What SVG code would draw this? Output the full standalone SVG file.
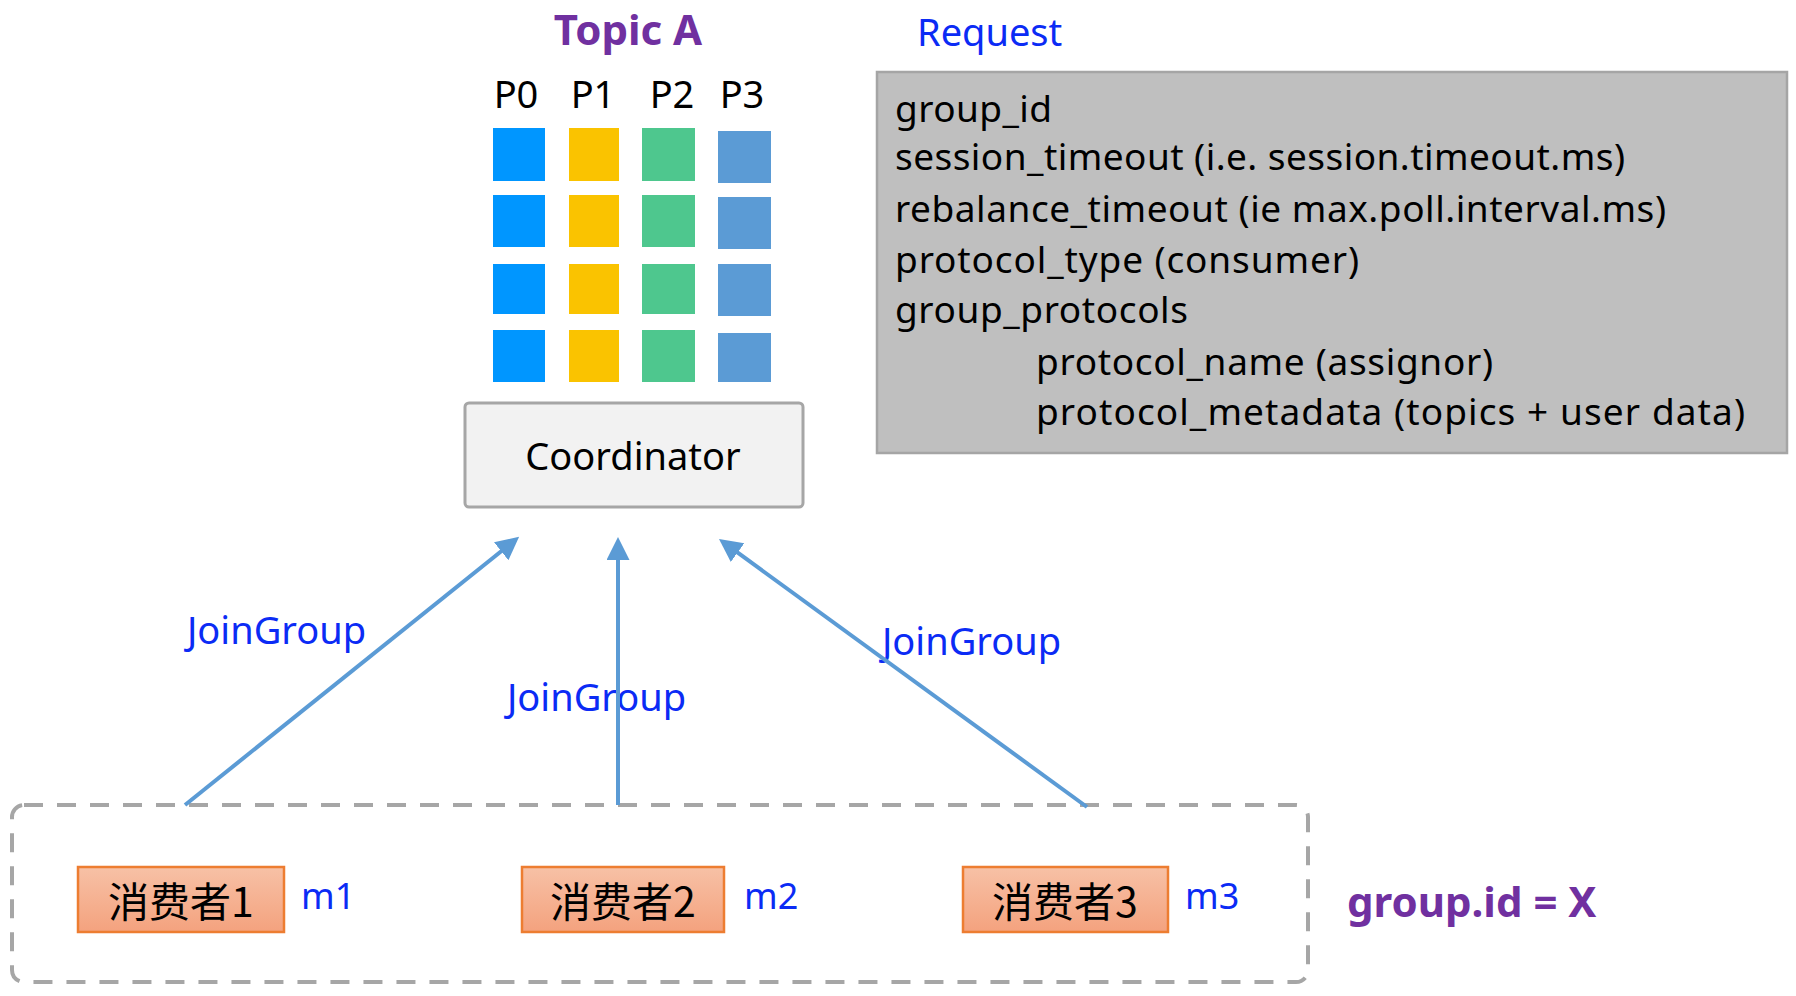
<svg xmlns="http://www.w3.org/2000/svg" width="1796" height="996" viewBox="0 0 1796 996">
<style>
.t{font-family:"Noto Sans","Liberation Sans",sans-serif;}
.blue{fill:#0B2BF5;}
.purple{fill:#7030A0;font-weight:bold;}
.req{font-family:"Noto Sans","Liberation Sans",sans-serif;font-size:37px;fill:#000;}
.cn{font-family:"Noto Sans CJK SC","Noto Sans",sans-serif;font-size:41px;fill:#000;text-anchor:middle;}
.cons{fill:url(#og);stroke:#ED7D31;stroke-width:2.5;}
.conn{stroke:#5B9BD5;stroke-width:4;fill:none;marker-end:url(#ah);}
.c0{fill:#0096FF;} .c1{fill:#FAC300;} .c2{fill:#4EC78E;} .c3{fill:#5B9BD5;}
</style>
<defs>
<linearGradient id="og" x1="0" y1="0" x2="0" y2="1">
<stop offset="0" stop-color="#F7C1A6"/>
<stop offset="1" stop-color="#F4A27E"/>
</linearGradient>
<marker id="ah" markerUnits="userSpaceOnUse" markerWidth="24" markerHeight="24" refX="10" refY="11.5" orient="auto" viewBox="0 0 24 24">
<path d="M0,0 L23,11.5 L0,23 z" fill="#5B9BD5"/>
</marker>
</defs>
<rect width="1796" height="996" fill="#FFFFFF"/>

<g id="topic">
<text class="t purple" x="628" y="45" font-size="42" text-anchor="middle">Topic A</text>
<g class="t" font-size="38" text-anchor="middle" fill="#000">
<text x="516" y="108">P0</text>
<text x="593" y="108">P1</text>
<text x="672" y="108">P2</text>
<text x="742" y="108">P3</text>
</g>
<g id="p0">
<rect class="c0" x="493" y="128" width="52" height="53"/>
<rect class="c0" x="493" y="195" width="52" height="52"/>
<rect class="c0" x="493" y="264" width="52" height="50"/>
<rect class="c0" x="493" y="330" width="52" height="52"/>
</g>
<g id="p1">
<rect class="c1" x="569" y="128" width="50" height="53"/>
<rect class="c1" x="569" y="195" width="50" height="52"/>
<rect class="c1" x="569" y="264" width="50" height="50"/>
<rect class="c1" x="569" y="330" width="50" height="52"/>
</g>
<g id="p2">
<rect class="c2" x="642" y="128" width="53" height="53"/>
<rect class="c2" x="642" y="195" width="53" height="52"/>
<rect class="c2" x="642" y="264" width="53" height="50"/>
<rect class="c2" x="642" y="330" width="53" height="52"/>
</g>
<g id="p3">
<rect class="c3" x="718" y="131" width="53" height="52"/>
<rect class="c3" x="718" y="197" width="53" height="52"/>
<rect class="c3" x="718" y="264" width="53" height="52"/>
<rect class="c3" x="718" y="333" width="53" height="49"/>
</g>
</g>

<g id="coordinator">
<rect x="465" y="403" width="338" height="104" rx="4" fill="#F2F2F2" stroke="#A6A6A6" stroke-width="3"/>
<text class="t" x="633" y="470" font-size="38" text-anchor="middle" fill="#000">Coordinator</text>
</g>

<g id="request">
<text class="t blue" x="917" y="46" font-size="38">Request</text>
<rect x="877" y="72" width="910" height="381" fill="#BFBFBF" stroke="#A5A5A5" stroke-width="2.5"/>
<text class="req" x="895" y="122" textLength="157">group_id</text>
<text class="req" x="895" y="170" textLength="730">session_timeout (i.e. session.timeout.ms)</text>
<text class="req" x="895" y="222" textLength="771">rebalance_timeout (ie max.poll.interval.ms)</text>
<text class="req" x="895" y="273" textLength="464">protocol_type (consumer)</text>
<text class="req" x="895" y="323" textLength="293">group_protocols</text>
<text class="req" x="1036" y="375" textLength="457">protocol_name (assignor)</text>
<text class="req" x="1036" y="425" textLength="709">protocol_metadata (topics + user data)</text>
</g>

<g id="group">
<rect x="12" y="805" width="1296" height="177" rx="12" fill="none" stroke="#A6A6A6" stroke-width="4" stroke-dasharray="19 14"/>
<text class="t purple" x="1347" y="917" font-size="42">group.id = X</text>
</g>

<g id="consumer1">
<rect class="cons" x="78" y="867" width="206" height="65"/>
<text class="cn" x="181" y="917">消费者1</text>
<text class="t blue" x="301" y="909" font-size="36">m1</text>
</g>
<g id="consumer2">
<rect class="cons" x="522" y="867" width="202" height="65"/>
<text class="cn" x="623" y="917">消费者2</text>
<text class="t blue" x="744" y="909" font-size="36">m2</text>
</g>
<g id="consumer3">
<rect class="cons" x="963" y="867" width="205" height="65"/>
<text class="cn" x="1065" y="917">消费者3</text>
<text class="t blue" x="1185" y="909" font-size="36">m3</text>
</g>

<g id="labels" class="t blue" font-size="38">
<text x="187" y="644">JoinGroup</text>
<text x="507" y="711">JoinGroup</text>
<text x="882" y="655">JoinGroup</text>
</g>

<g id="connectors">
<line class="conn" x1="185" y1="805" x2="509" y2="545"/>
<line class="conn" x1="618" y1="805" x2="618" y2="550"/>
<line class="conn" x1="1087" y1="807" x2="729.5" y2="546.7"/>
</g>
</svg>
